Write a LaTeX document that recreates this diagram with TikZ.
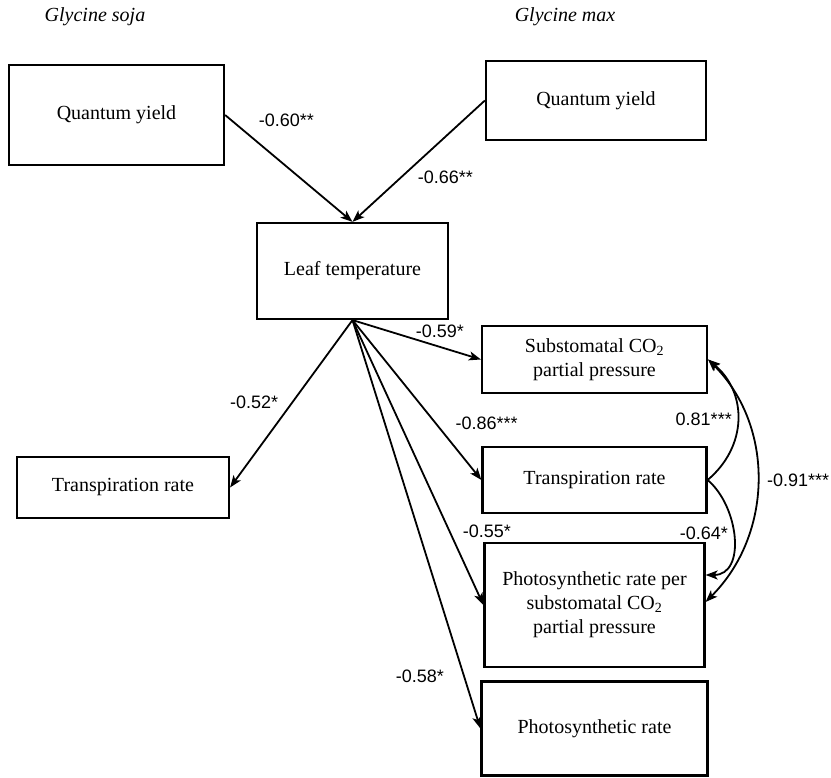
\documentclass[tikz,border=0pt]{standalone}
\usepackage{fontspec}
\setmainfont{Liberation Serif}
\setsansfont{Liberation Sans}
\usetikzlibrary{positioning,arrows.meta}

\tikzset{
  box/.style={draw, line width=2.2pt, align=center, inner sep=0pt,
    font=\fontsize{20}{24}\selectfont},
  coef/.style={font=\sffamily\fontsize{18}{20}\selectfont, inner sep=1pt},
  species/.style={font=\itshape\fontsize{20}{24}\selectfont}
}

\begin{document}
\begin{tikzpicture}[>={Stealth[length=12pt,width=9pt,inset=3pt]}, on grid, line width=1.8pt]
  \useasboundingbox (0,0) rectangle (831pt,778pt);

  \node[box, minimum width=215pt, minimum height=100pt] (qys) at (116.5pt,663pt) {Quantum yield};
  \node[species] (soja) [above left=98pt and 21.5pt of qys] {Glycine soja};
  \node[box, minimum width=220pt, minimum height=79pt] (qym) [above right=14.5pt and 479.5pt of qys] {Quantum yield};
  \node[species] (max) [above left=83.5pt and 31pt of qym] {Glycine max};

  \node[box, minimum width=191pt, minimum height=96pt] (leaf) [below right=156pt and 236pt of qys] {Leaf temperature};
  \node[box, minimum width=212pt, minimum height=61pt] (trs) [below left=216.5pt and 229.5pt of leaf] {Transpiration rate};

  \node[box, minimum width=225pt, minimum height=67pt] (sub) [below right=88.5pt and 242pt of leaf] {Substomatal CO\textsubscript{2}\\partial pressure};
  \node[box, minimum width=224pt, minimum height=66pt] (trm) [below=120.5pt of sub] {Transpiration rate};
  \node[box, minimum width=220pt, minimum height=124pt] (psp) [below=125pt of trm] {Photosynthetic rate per\\substomatal CO\textsubscript{2}\\partial pressure};
  \node[box, minimum width=226pt, minimum height=94pt] (psr) [below=123.5pt of psp] {Photosynthetic rate};

  \path[->, line width=1.8pt]
  (qys.east) edge node [coef, pos=0.3, xshift=23pt, yshift=27pt] {-0.60**} (leaf.north)
  (qym.west) edge node [coef, pos=0.45, xshift=20pt, yshift=-22pt] {-0.66**} (leaf.north)

  (leaf.south) edge node [coef, pos=0.65, xshift=4pt, yshift=14pt] {-0.59*} (sub.west)
  (leaf.south) edge node [coef, pos=0.6, xshift=-25pt, yshift=18pt] {-0.52*} (trs.east)
  (leaf.south) edge node [coef, pos=0.8, xshift=31pt, yshift=25pt] {-0.86***} (trm.west)
  (leaf.south) edge node [coef, pos=0.79, xshift=31pt, yshift=14pt] {-0.55*} (psp.west)
  (leaf.south) edge node [coef, pos=0.84, xshift=-40pt, yshift=-13pt] {-0.58*} (psr.west)
  ;

  % correlations between the responses
  \draw[->] (trm.east) to [out=40, in=-40, looseness=1.1] node [coef, left, xshift=-4pt] {0.81***} (sub.east);
  \draw[->] (trm.east) to [out=-40, in=0, looseness=1.1] node [coef, left, xshift=-4pt, yshift=4pt] {-0.64*} ([yshift=30pt]psp.east);
  \draw[<->] (sub.east) to [out=-45, in=45] node [coef, right, xshift=8pt] {-0.91***} ([yshift=3pt]psp.east);
\end{tikzpicture}
\end{document}
